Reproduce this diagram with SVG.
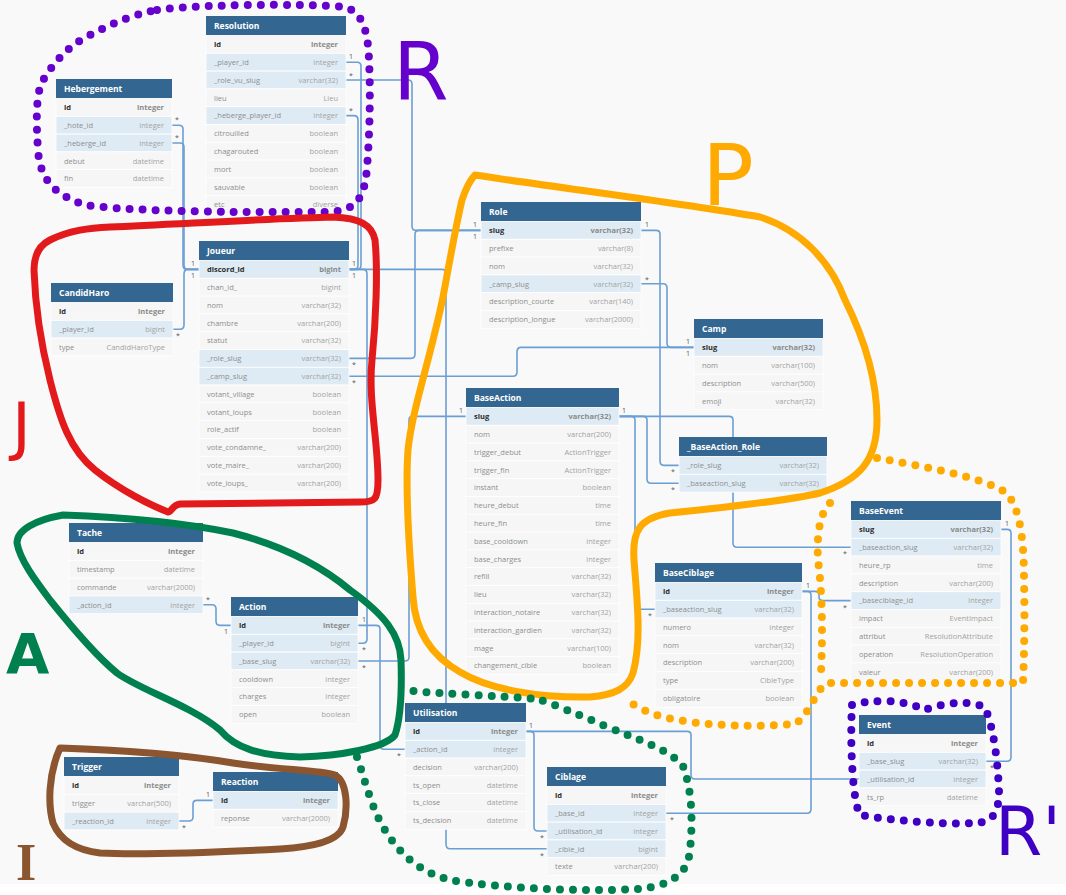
<svg xmlns="http://www.w3.org/2000/svg" width="1066" height="895" viewBox="0 0 1066 895">
<style>
.h{fill:#336791}
.ht{font:bold 8.5px "Open Sans",sans-serif;fill:#fff}
.r{fill:#f6f6f6;stroke:#fff;stroke-width:.8}
.b{fill:#deebf4;stroke:#fff;stroke-width:.8}
.n{font:7.5px "Open Sans",sans-serif;fill:#8e8e8e}
.k{font:bold 7.5px "Open Sans",sans-serif;fill:#2b2b2b}
.y{font:7.5px "Open Sans",sans-serif;fill:#a3a3a3;text-anchor:end}
.yk{font:bold 7.5px "Open Sans",sans-serif;fill:#8a8a8a;text-anchor:end}
.c{fill:none;stroke:#6b9fd3;stroke-width:1.6}
.cl{font:7px "Open Sans",sans-serif;fill:#555}
.sol{fill:none;stroke-width:7;stroke-linecap:round;stroke-linejoin:round}
.dot{fill:none;stroke-width:8;stroke-linecap:round;stroke-dasharray:0 13}
.hw{font-family:"DejaVu Sans",sans-serif}
</style>
<rect width="1066" height="895" fill="#fff"/>
<rect width="1066" height="884" fill="#f9f9f9"/>

<g id="connectors">
<path class="c" d="M346,62.2H357Q361,62.2 361,66V265Q361,269.4 357,269.4H349"/>
<path class="c" d="M346,115.6H354Q358,115.6 358,120V265Q358,269.4 354,269.4H349"/>
<path class="c" d="M346,80H408Q412,80 412,84V226Q412,230.4 416,230.4H481"/>
<path class="c" d="M349,358.4H411Q415,358.4 415,354V234.4Q415,230.4 419,230.4H481"/>
<path class="c" d="M172,125.2H179Q183,125.2 183,129V265Q183,269.4 187,269.4H199"/>
<path class="c" d="M172,143H180Q184,143 184,147V265Q184,269.4 188,269.4H199"/>
<path class="c" d="M173,329.2H180Q184,329.2 184,325V274Q184,269.4 188,269.4H199"/>
<path class="c" d="M349,269.4H363Q367,269.4 367,274V639Q367,643.2 363,643.2H358"/>
<path class="c" d="M349,269.4H442Q446,269.4 446,274V844Q446,848.8 450,848.8H547"/>
<path class="c" d="M349,376.2H513Q517,376.2 517,372V352Q517,347.4 521,347.4H694"/>
<path class="c" d="M641,283.8H663Q667,283.8 667,288V343Q667,347.4 671,347.4H694"/>
<path class="c" d="M641,230.4H656Q660,230.4 660,234V461Q660,465.4 664,465.4H679"/>
<path class="c" d="M619,416.4H643Q647,416.4 647,420V479Q647,483.2 651,483.2H679"/>
<path class="c" d="M619,416.4H631Q635,416.4 635,420V605Q635,609.2 639,609.2H655"/>
<path class="c" d="M619,416.4H729Q733,416.4 733,420V543Q733,547.2 737,547.2H851"/>
<path class="c" d="M358,661H405Q409,661 409,657V420Q409,416.4 413,416.4H466"/>
<path class="c" d="M203,604.8H212Q216,604.8 216,609V621Q216,625.4 220,625.4H231"/>
<path class="c" d="M358,625.4H376Q380,625.4 380,629V745Q380,749.2 384,749.2H405"/>
<path class="c" d="M179,821H189Q193,821 193,817V804Q193,800.4 197,800.4H213"/>
<path class="c" d="M526,731.4H687Q691,731.4 691,735V775Q691,779 695,779H859"/>
<path class="c" d="M526,731.4H530Q534,731.4 534,735V827Q534,831 538,831H547"/>
<path class="c" d="M666,813.2H807Q811,813.2 811,809V595Q811,591.4 807,591.4H802"/>
<path class="c" d="M802,591.4H815Q819,591.4 819,595V597Q819,600.6 823,600.6H851"/>
<path class="c" d="M986,761.2H1007Q1011,761.2 1011,757V533Q1011,529.4 1007,529.4H1001"/>
<g class="cl">
<text x="349" y="59">1</text><text x="349" y="78">*</text><text x="349" y="113">*</text>
<text x="175" y="122">*</text><text x="175" y="140">*</text>
<text x="191" y="266">1</text><text x="191" y="278">1</text><text x="352" y="266">1</text><text x="352" y="278">1</text>
<text x="352" y="367">*</text><text x="352" y="385">*</text><text x="176" y="338">*</text>
<text x="473" y="227">1</text><text x="473" y="239">1</text><text x="645" y="227">1</text><text x="645" y="282">*</text>
<text x="686" y="344">1</text><text x="686" y="356">1</text>
<text x="671" y="474">*</text><text x="671" y="492">*</text>
<text x="459" y="413">1</text><text x="622" y="413">1</text>
<text x="206" y="602">*</text><text x="224" y="634">1</text><text x="362" y="622">1</text>
<text x="362" y="652">*</text><text x="362" y="670">*</text>
<text x="182" y="830">*</text><text x="206" y="797">1</text>
<text x="397" y="758">*</text><text x="529" y="728">1</text>
<text x="670" y="822">*</text><text x="540" y="840">*</text><text x="540" y="858">*</text>
<text x="806" y="588">1</text><text x="648" y="618">*</text>
<text x="1005" y="526">1</text><text x="843" y="556">*</text><text x="843" y="610">*</text>
<text x="990" y="770">*</text><text x="851" y="788">*</text>
</g>
</g>

<g id="Resolution" transform="translate(206,16)">
<rect class="h" width="140" height="19.5"/><text class="ht" x="8" y="13">Resolution</text>
<rect class="r" y="19.5" width="140" height="17.8"/><text class="k" x="8" y="31.1">id</text><text class="yk" x="132" y="31.1">integer</text>
<rect class="b" y="37.3" width="140" height="17.8"/><text class="n" x="8" y="48.9">_player_id</text><text class="y" x="132" y="48.9">integer</text>
<rect class="b" y="55.1" width="140" height="17.8"/><text class="n" x="8" y="66.7">_role_vu_slug</text><text class="y" x="132" y="66.7">varchar(32)</text>
<rect class="r" y="72.9" width="140" height="17.8"/><text class="n" x="8" y="84.5">lieu</text><text class="y" x="132" y="84.5">Lieu</text>
<rect class="b" y="90.7" width="140" height="17.8"/><text class="n" x="8" y="102.3">_heberge_player_id</text><text class="y" x="132" y="102.3">integer</text>
<rect class="r" y="108.5" width="140" height="17.8"/><text class="n" x="8" y="120.1">citrouilled</text><text class="y" x="132" y="120.1">boolean</text>
<rect class="r" y="126.3" width="140" height="17.8"/><text class="n" x="8" y="137.9">chagarouted</text><text class="y" x="132" y="137.9">boolean</text>
<rect class="r" y="144.1" width="140" height="17.8"/><text class="n" x="8" y="155.7">mort</text><text class="y" x="132" y="155.7">boolean</text>
<rect class="r" y="161.9" width="140" height="17.8"/><text class="n" x="8" y="173.5">sauvable</text><text class="y" x="132" y="173.5">boolean</text>
<rect class="r" y="179.7" width="140" height="17.8"/><text class="n" x="8" y="191.3">etc</text><text class="y" x="132" y="191.3">diverse</text>
</g>

<g id="Hebergement" transform="translate(56,79)">
<rect class="h" width="116" height="19.5"/><text class="ht" x="8" y="13">Hebergement</text>
<rect class="r" y="19.5" width="116" height="17.8"/><text class="k" x="8" y="31.1">id</text><text class="yk" x="108" y="31.1">integer</text>
<rect class="b" y="37.3" width="116" height="17.8"/><text class="n" x="8" y="48.9">_hote_id</text><text class="y" x="108" y="48.9">integer</text>
<rect class="b" y="55.1" width="116" height="17.8"/><text class="n" x="8" y="66.7">_heberge_id</text><text class="y" x="108" y="66.7">integer</text>
<rect class="r" y="72.9" width="116" height="17.8"/><text class="n" x="8" y="84.5">debut</text><text class="y" x="108" y="84.5">datetime</text>
<rect class="r" y="90.7" width="116" height="17.8"/><text class="n" x="8" y="102.3">fin</text><text class="y" x="108" y="102.3">datetime</text>
</g>

<g id="Joueur" transform="translate(199,241)">
<rect class="h" width="150" height="19.5"/><text class="ht" x="8" y="13">Joueur</text>
<rect class="b" y="19.5" width="150" height="17.8"/><text class="k" x="8" y="31.1">discord_id</text><text class="yk" x="142" y="31.1">bigint</text>
<rect class="r" y="37.3" width="150" height="17.8"/><text class="n" x="8" y="48.9">chan_id_</text><text class="y" x="142" y="48.9">bigint</text>
<rect class="r" y="55.1" width="150" height="17.8"/><text class="n" x="8" y="66.7">nom</text><text class="y" x="142" y="66.7">varchar(32)</text>
<rect class="r" y="72.9" width="150" height="17.8"/><text class="n" x="8" y="84.5">chambre</text><text class="y" x="142" y="84.5">varchar(200)</text>
<rect class="r" y="90.7" width="150" height="17.8"/><text class="n" x="8" y="102.3">statut</text><text class="y" x="142" y="102.3">varchar(32)</text>
<rect class="b" y="108.5" width="150" height="17.8"/><text class="n" x="8" y="120.1">_role_slug</text><text class="y" x="142" y="120.1">varchar(32)</text>
<rect class="b" y="126.3" width="150" height="17.8"/><text class="n" x="8" y="137.9">_camp_slug</text><text class="y" x="142" y="137.9">varchar(32)</text>
<rect class="r" y="144.1" width="150" height="17.8"/><text class="n" x="8" y="155.7">votant_village</text><text class="y" x="142" y="155.7">boolean</text>
<rect class="r" y="161.9" width="150" height="17.8"/><text class="n" x="8" y="173.5">votant_loups</text><text class="y" x="142" y="173.5">boolean</text>
<rect class="r" y="179.7" width="150" height="17.8"/><text class="n" x="8" y="191.3">role_actif</text><text class="y" x="142" y="191.3">boolean</text>
<rect class="r" y="197.5" width="150" height="17.8"/><text class="n" x="8" y="209.1">vote_condamne_</text><text class="y" x="142" y="209.1">varchar(200)</text>
<rect class="r" y="215.3" width="150" height="17.8"/><text class="n" x="8" y="226.9">vote_maire_</text><text class="y" x="142" y="226.9">varchar(200)</text>
<rect class="r" y="233.1" width="150" height="17.8"/><text class="n" x="8" y="244.7">vote_loups_</text><text class="y" x="142" y="244.7">varchar(200)</text>
</g>

<g id="CandidHaro" transform="translate(51,283)">
<rect class="h" width="122" height="19.5"/><text class="ht" x="8" y="13">CandidHaro</text>
<rect class="r" y="19.5" width="122" height="17.8"/><text class="k" x="8" y="31.1">id</text><text class="yk" x="114" y="31.1">integer</text>
<rect class="b" y="37.3" width="122" height="17.8"/><text class="n" x="8" y="48.9">_player_id</text><text class="y" x="114" y="48.9">bigint</text>
<rect class="r" y="55.1" width="122" height="17.8"/><text class="n" x="8" y="66.7">type</text><text class="y" x="114" y="66.7">CandidHaroType</text>
</g>

<g id="Tache" transform="translate(69,523)">
<rect class="h" width="134" height="19.5"/><text class="ht" x="8" y="13">Tache</text>
<rect class="r" y="19.5" width="134" height="17.8"/><text class="k" x="8" y="31.1">id</text><text class="yk" x="126" y="31.1">integer</text>
<rect class="r" y="37.3" width="134" height="17.8"/><text class="n" x="8" y="48.9">timestamp</text><text class="y" x="126" y="48.9">datetime</text>
<rect class="r" y="55.1" width="134" height="17.8"/><text class="n" x="8" y="66.7">commande</text><text class="y" x="126" y="66.7">varchar(2000)</text>
<rect class="b" y="72.9" width="134" height="17.8"/><text class="n" x="8" y="84.5">_action_id</text><text class="y" x="126" y="84.5">integer</text>
</g>

<g id="Action" transform="translate(231,597)">
<rect class="h" width="127" height="19.5"/><text class="ht" x="8" y="13">Action</text>
<rect class="b" y="19.5" width="127" height="17.8"/><text class="k" x="8" y="31.1">id</text><text class="yk" x="119" y="31.1">integer</text>
<rect class="b" y="37.3" width="127" height="17.8"/><text class="n" x="8" y="48.9">_player_id</text><text class="y" x="119" y="48.9">bigint</text>
<rect class="b" y="55.1" width="127" height="17.8"/><text class="n" x="8" y="66.7">_base_slug</text><text class="y" x="119" y="66.7">varchar(32)</text>
<rect class="r" y="72.9" width="127" height="17.8"/><text class="n" x="8" y="84.5">cooldown</text><text class="y" x="119" y="84.5">integer</text>
<rect class="r" y="90.7" width="127" height="17.8"/><text class="n" x="8" y="102.3">charges</text><text class="y" x="119" y="102.3">integer</text>
<rect class="r" y="108.5" width="127" height="17.8"/><text class="n" x="8" y="120.1">open</text><text class="y" x="119" y="120.1">boolean</text>
</g>

<g id="Trigger" transform="translate(64,757)">
<rect class="h" width="115" height="19.5"/><text class="ht" x="8" y="13">Trigger</text>
<rect class="r" y="19.5" width="115" height="17.8"/><text class="k" x="8" y="31.1">id</text><text class="yk" x="107" y="31.1">integer</text>
<rect class="r" y="37.3" width="115" height="17.8"/><text class="n" x="8" y="48.9">trigger</text><text class="y" x="107" y="48.9">varchar(500)</text>
<rect class="b" y="55.1" width="115" height="17.8"/><text class="n" x="8" y="66.7">_reaction_id</text><text class="y" x="107" y="66.7">integer</text>
</g>

<g id="Reaction" transform="translate(213,772)">
<rect class="h" width="125" height="19.5"/><text class="ht" x="8" y="13">Reaction</text>
<rect class="b" y="19.5" width="125" height="17.8"/><text class="k" x="8" y="31.1">id</text><text class="yk" x="117" y="31.1">integer</text>
<rect class="r" y="37.3" width="125" height="17.8"/><text class="n" x="8" y="48.9">reponse</text><text class="y" x="117" y="48.9">varchar(2000)</text>
</g>

<g id="Role" transform="translate(481,202)">
<rect class="h" width="160" height="19.5"/><text class="ht" x="8" y="13">Role</text>
<rect class="b" y="19.5" width="160" height="17.8"/><text class="k" x="8" y="31.1">slug</text><text class="yk" x="152" y="31.1">varchar(32)</text>
<rect class="r" y="37.3" width="160" height="17.8"/><text class="n" x="8" y="48.9">prefixe</text><text class="y" x="152" y="48.9">varchar(8)</text>
<rect class="r" y="55.1" width="160" height="17.8"/><text class="n" x="8" y="66.7">nom</text><text class="y" x="152" y="66.7">varchar(32)</text>
<rect class="b" y="72.9" width="160" height="17.8"/><text class="n" x="8" y="84.5">_camp_slug</text><text class="y" x="152" y="84.5">varchar(32)</text>
<rect class="r" y="90.7" width="160" height="17.8"/><text class="n" x="8" y="102.3">description_courte</text><text class="y" x="152" y="102.3">varchar(140)</text>
<rect class="r" y="108.5" width="160" height="17.8"/><text class="n" x="8" y="120.1">description_longue</text><text class="y" x="152" y="120.1">varchar(2000)</text>
</g>

<g id="Camp" transform="translate(694,319)">
<rect class="h" width="129" height="19.5"/><text class="ht" x="8" y="13">Camp</text>
<rect class="b" y="19.5" width="129" height="17.8"/><text class="k" x="8" y="31.1">slug</text><text class="yk" x="121" y="31.1">varchar(32)</text>
<rect class="r" y="37.3" width="129" height="17.8"/><text class="n" x="8" y="48.9">nom</text><text class="y" x="121" y="48.9">varchar(100)</text>
<rect class="r" y="55.1" width="129" height="17.8"/><text class="n" x="8" y="66.7">description</text><text class="y" x="121" y="66.7">varchar(500)</text>
<rect class="r" y="72.9" width="129" height="17.8"/><text class="n" x="8" y="84.5">emoji</text><text class="y" x="121" y="84.5">varchar(32)</text>
</g>

<g id="BaseAction_Role" transform="translate(679,437)">
<rect class="h" width="148" height="19.5"/><text class="ht" x="8" y="13">_BaseAction_Role</text>
<rect class="b" y="19.5" width="148" height="17.8"/><text class="n" x="8" y="31.1">_role_slug</text><text class="y" x="140" y="31.1">varchar(32)</text>
<rect class="b" y="37.3" width="148" height="17.8"/><text class="n" x="8" y="48.9">_baseaction_slug</text><text class="y" x="140" y="48.9">varchar(32)</text>
</g>

<g id="BaseAction" transform="translate(466,388)">
<rect class="h" width="153" height="19.5"/><text class="ht" x="8" y="13">BaseAction</text>
<rect class="b" y="19.5" width="153" height="17.8"/><text class="k" x="8" y="31.1">slug</text><text class="yk" x="145" y="31.1">varchar(32)</text>
<rect class="r" y="37.3" width="153" height="17.8"/><text class="n" x="8" y="48.9">nom</text><text class="y" x="145" y="48.9">varchar(200)</text>
<rect class="r" y="55.1" width="153" height="17.8"/><text class="n" x="8" y="66.7">trigger_debut</text><text class="y" x="145" y="66.7">ActionTrigger</text>
<rect class="r" y="72.9" width="153" height="17.8"/><text class="n" x="8" y="84.5">trigger_fin</text><text class="y" x="145" y="84.5">ActionTrigger</text>
<rect class="r" y="90.7" width="153" height="17.8"/><text class="n" x="8" y="102.3">instant</text><text class="y" x="145" y="102.3">boolean</text>
<rect class="r" y="108.5" width="153" height="17.8"/><text class="n" x="8" y="120.1">heure_debut</text><text class="y" x="145" y="120.1">time</text>
<rect class="r" y="126.3" width="153" height="17.8"/><text class="n" x="8" y="137.9">heure_fin</text><text class="y" x="145" y="137.9">time</text>
<rect class="r" y="144.1" width="153" height="17.8"/><text class="n" x="8" y="155.7">base_cooldown</text><text class="y" x="145" y="155.7">integer</text>
<rect class="r" y="161.9" width="153" height="17.8"/><text class="n" x="8" y="173.5">base_charges</text><text class="y" x="145" y="173.5">integer</text>
<rect class="r" y="179.7" width="153" height="17.8"/><text class="n" x="8" y="191.3">refill</text><text class="y" x="145" y="191.3">varchar(32)</text>
<rect class="r" y="197.5" width="153" height="17.8"/><text class="n" x="8" y="209.1">lieu</text><text class="y" x="145" y="209.1">varchar(32)</text>
<rect class="r" y="215.3" width="153" height="17.8"/><text class="n" x="8" y="226.9">interaction_notaire</text><text class="y" x="145" y="226.9">varchar(32)</text>
<rect class="r" y="233.1" width="153" height="17.8"/><text class="n" x="8" y="244.7">interaction_gardien</text><text class="y" x="145" y="244.7">varchar(32)</text>
<rect class="r" y="250.9" width="153" height="17.8"/><text class="n" x="8" y="262.5">mage</text><text class="y" x="145" y="262.5">varchar(100)</text>
<rect class="r" y="268.7" width="153" height="17.8"/><text class="n" x="8" y="280.3">changement_cible</text><text class="y" x="145" y="280.3">boolean</text>
</g>

<g id="BaseCiblage" transform="translate(655,563)">
<rect class="h" width="147" height="19.5"/><text class="ht" x="8" y="13">BaseCiblage</text>
<rect class="b" y="19.5" width="147" height="17.8"/><text class="k" x="8" y="31.1">id</text><text class="yk" x="139" y="31.1">integer</text>
<rect class="b" y="37.3" width="147" height="17.8"/><text class="n" x="8" y="48.9">_baseaction_slug</text><text class="y" x="139" y="48.9">varchar(32)</text>
<rect class="r" y="55.1" width="147" height="17.8"/><text class="n" x="8" y="66.7">numero</text><text class="y" x="139" y="66.7">integer</text>
<rect class="r" y="72.9" width="147" height="17.8"/><text class="n" x="8" y="84.5">nom</text><text class="y" x="139" y="84.5">varchar(32)</text>
<rect class="r" y="90.7" width="147" height="17.8"/><text class="n" x="8" y="102.3">description</text><text class="y" x="139" y="102.3">varchar(200)</text>
<rect class="r" y="108.5" width="147" height="17.8"/><text class="n" x="8" y="120.1">type</text><text class="y" x="139" y="120.1">CibleType</text>
<rect class="r" y="126.3" width="147" height="17.8"/><text class="n" x="8" y="137.9">obligatoire</text><text class="y" x="139" y="137.9">boolean</text>
</g>

<g id="BaseEvent" transform="translate(851,501)">
<rect class="h" width="150" height="19.5"/><text class="ht" x="8" y="13">BaseEvent</text>
<rect class="b" y="19.5" width="150" height="17.8"/><text class="k" x="8" y="31.1">slug</text><text class="yk" x="142" y="31.1">varchar(32)</text>
<rect class="b" y="37.3" width="150" height="17.8"/><text class="n" x="8" y="48.9">_baseaction_slug</text><text class="y" x="142" y="48.9">varchar(32)</text>
<rect class="r" y="55.1" width="150" height="17.8"/><text class="n" x="8" y="66.7">heure_rp</text><text class="y" x="142" y="66.7">time</text>
<rect class="r" y="72.9" width="150" height="17.8"/><text class="n" x="8" y="84.5">description</text><text class="y" x="142" y="84.5">varchar(200)</text>
<rect class="b" y="90.7" width="150" height="17.8"/><text class="n" x="8" y="102.3">_baseciblage_id</text><text class="y" x="142" y="102.3">integer</text>
<rect class="r" y="108.5" width="150" height="17.8"/><text class="n" x="8" y="120.1">impact</text><text class="y" x="142" y="120.1">EventImpact</text>
<rect class="r" y="126.3" width="150" height="17.8"/><text class="n" x="8" y="137.9">attribut</text><text class="y" x="142" y="137.9">ResolutionAttribute</text>
<rect class="r" y="144.1" width="150" height="17.8"/><text class="n" x="8" y="155.7">operation</text><text class="y" x="142" y="155.7">ResolutionOperation</text>
<rect class="r" y="161.9" width="150" height="17.8"/><text class="n" x="8" y="173.5">valeur</text><text class="y" x="142" y="173.5">varchar(200)</text>
</g>

<g id="Event" transform="translate(859,715)">
<rect class="h" width="127" height="19.5"/><text class="ht" x="8" y="13">Event</text>
<rect class="r" y="19.5" width="127" height="17.8"/><text class="k" x="8" y="31.1">id</text><text class="yk" x="119" y="31.1">integer</text>
<rect class="b" y="37.3" width="127" height="17.8"/><text class="n" x="8" y="48.9">_base_slug</text><text class="y" x="119" y="48.9">varchar(32)</text>
<rect class="b" y="55.1" width="127" height="17.8"/><text class="n" x="8" y="66.7">_utilisation_id</text><text class="y" x="119" y="66.7">integer</text>
<rect class="r" y="72.9" width="127" height="17.8"/><text class="n" x="8" y="84.5">ts_rp</text><text class="y" x="119" y="84.5">datetime</text>
</g>

<g id="Utilisation" transform="translate(405,703)">
<rect class="h" width="121" height="19.5"/><text class="ht" x="8" y="13">Utilisation</text>
<rect class="b" y="19.5" width="121" height="17.8"/><text class="k" x="8" y="31.1">id</text><text class="yk" x="113" y="31.1">integer</text>
<rect class="b" y="37.3" width="121" height="17.8"/><text class="n" x="8" y="48.9">_action_id</text><text class="y" x="113" y="48.9">integer</text>
<rect class="r" y="55.1" width="121" height="17.8"/><text class="n" x="8" y="66.7">decision</text><text class="y" x="113" y="66.7">varchar(200)</text>
<rect class="r" y="72.9" width="121" height="17.8"/><text class="n" x="8" y="84.5">ts_open</text><text class="y" x="113" y="84.5">datetime</text>
<rect class="r" y="90.7" width="121" height="17.8"/><text class="n" x="8" y="102.3">ts_close</text><text class="y" x="113" y="102.3">datetime</text>
<rect class="r" y="108.5" width="121" height="17.8"/><text class="n" x="8" y="120.1">ts_decision</text><text class="y" x="113" y="120.1">datetime</text>
</g>

<g id="Ciblage" transform="translate(547,767)">
<rect class="h" width="119" height="19.5"/><text class="ht" x="8" y="13">Ciblage</text>
<rect class="r" y="19.5" width="119" height="17.8"/><text class="k" x="8" y="31.1">id</text><text class="yk" x="111" y="31.1">integer</text>
<rect class="b" y="37.3" width="119" height="17.8"/><text class="n" x="8" y="48.9">_base_id</text><text class="y" x="111" y="48.9">integer</text>
<rect class="b" y="55.1" width="119" height="17.8"/><text class="n" x="8" y="66.7">_utilisation_id</text><text class="y" x="111" y="66.7">integer</text>
<rect class="b" y="72.9" width="119" height="17.8"/><text class="n" x="8" y="84.5">_cible_id</text><text class="y" x="111" y="84.5">bigint</text>
<rect class="r" y="90.7" width="119" height="17.8"/><text class="n" x="8" y="102.3">texte</text><text class="y" x="111" y="102.3">varchar(200)</text>
</g>

<g id="annotations">
<path class="dot" stroke="#6600cc" d="M157,10C185,5 300,3 345,7C362,12 368,30 369,60C371,100 369,150 366,178C362,200 355,210 330,212L230,212C180,211 120,210 85,205C55,195 40,180 38,150C36,120 36,95 42,82C55,60 70,45 90,35C110,25 130,15 157,10Z"/>
<path class="sol" stroke="#e31a1c" d="M50,240C70,230 90,228 110,227C180,224 280,218 333,217C360,218 372,225 375,240C378,270 376,320 372,360C368,400 378,440 378,480C378,500 375,502 360,502L180,504C172,505 172,512 168,512C150,505 120,490 95,470C70,450 60,420 50,380C40,340 35,300 34,270C34,255 40,245 50,240Z"/>
<path class="sol" stroke="#00804f" d="M63,515C120,517 180,522 233,533C280,545 320,565 350,590C385,615 400,635 401,660C402,690 400,720 395,735C385,748 340,756 300,757C260,756 235,748 220,730C190,705 140,690 117,673C95,655 70,625 50,600C35,580 20,560 17,543C17,530 35,520 63,515Z"/>
<path class="sol" stroke="#8b5530" d="M60,748C120,750 180,754 233,763C280,770 320,770 335,775C348,782 348,810 343,827C338,842 310,847 280,849C220,852 140,855 100,853C75,850 60,840 53,823C48,805 48,775 60,748Z"/>
<path class="sol" stroke="#ffaa00" d="M475,175C560,188 680,203 760,217C800,230 830,260 845,300C865,340 877,380 877,420C877,460 860,480 820,493C790,500 720,508 670,513C640,518 632,530 634,560C637,600 642,640 633,673C628,688 615,695 590,697C540,698 490,690 460,672C430,655 415,630 413,597C410,560 405,490 408,450C412,410 430,360 443,297C450,260 455,230 462,200C466,188 470,180 475,175Z"/>
<path class="dot" stroke="#ffaa00" d="M877,458C920,466 980,476 1005,492C1020,505 1024,540 1024,580C1025,620 1024,660 1023,683L827,683C815,690 810,715 795,724C760,727 700,727 660,716C640,710 630,703 625,697"/>
<path class="dot" stroke="#ffaa00" d="M830,503C818,515 817,540 818,560C822,590 823,630 821,672"/>
<path class="dot" stroke="#3f00c4" d="M852,705C870,700 900,698 925,710C945,702 975,700 985,708C995,730 998,770 999,790C999,810 995,822 975,823C940,825 890,820 860,815C852,800 850,740 852,705Z"/>
<path class="dot" stroke="#00804f" d="M357,757C365,780 372,810 385,830C400,855 420,872 450,880C500,888 580,892 640,889C670,885 688,875 690,850C693,820 692,790 683,766C670,750 640,740 605,726C580,715 555,705 538,699C500,696 440,694 402,690"/>
<text class="hw" x="393" y="100" font-size="80" fill="#6600cc">R</text>
<text class="hw" x="12" y="448" font-size="64" fill="#e31a1c">J</text>
<text class="hw" x="6" y="673" font-size="56" fill="#00804f" font-weight="bold">A</text>
<text x="16" y="880" font-size="52" fill="#8b5530" font-family="'Liberation Serif',serif" font-weight="bold">I</text>
<text class="hw" x="702" y="205" font-size="86" fill="#ffaa00">P</text>
<text class="hw" x="995" y="855" font-size="68" fill="#3f00c4">R'</text>
</g>
</svg>
